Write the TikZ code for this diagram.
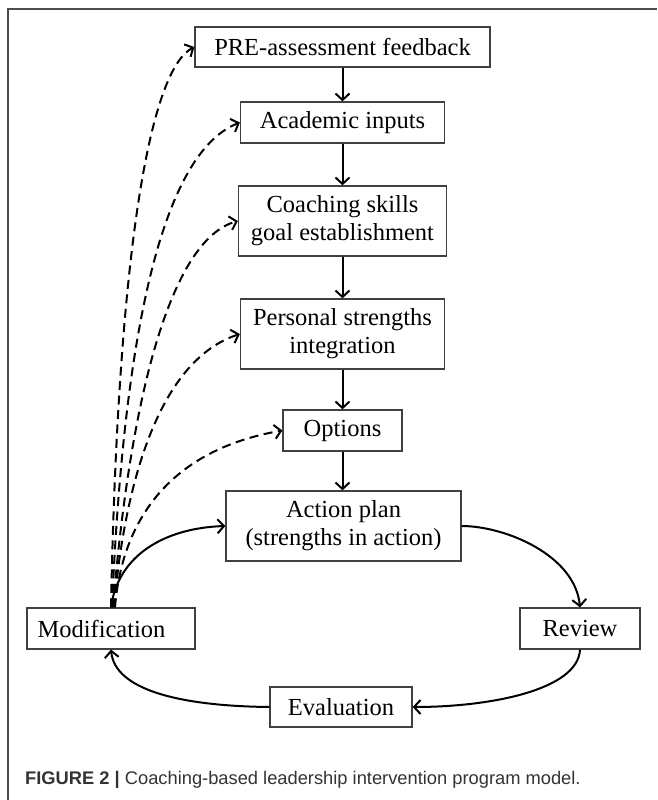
\documentclass[tikz,border=0pt]{standalone}
\usepackage{fontspec}
\setmainfont{Liberation Serif}
\newfontfamily\capfont{Liberation Sans}
\usetikzlibrary{arrows.meta}
\begin{document}
\begin{tikzpicture}[x=1pt,y=1pt,
  box/.style={draw=black!75, line width=1.3pt, fill=white, inner sep=0pt,
    align=center, font=\fontsize{24.5}{28}\selectfont},
  conn/.style={line width=2pt, -{Straight Barb[length=6.5pt,width=14pt,line width=2pt]}},
  dconn/.style={conn, dash pattern=on 9pt off 5.5pt}]
\useasboundingbox (0,0) rectangle (657,-800);
\draw[black!70, line width=1.3pt] (8,-800) -- (8,-9) -- (657,-9);

\node[box, minimum width=295, minimum height=40] (pre) at (342.5,-47) {PRE-assessment feedback};
\node[box, minimum width=204, minimum height=41] (acad) at (342.5,-122.5) {Academic inputs};
\node[box, minimum width=208, minimum height=70] (coach) at (342.5,-221) {Coaching skills\\goal establishment};
\node[box, minimum width=204, minimum height=70] (pers) at (342.5,-334) {Personal strengths\\integration};
\node[box, minimum width=119, minimum height=41] (opt) at (342.5,-430.5) {Options};
\node[box, minimum width=235, minimum height=70] (act) at (343.5,-526) {Action plan\\(strengths in action)};
\node[box, minimum width=168, minimum height=41] (mod) at (111,-628.5) {\hspace*{-19pt}Modification};
\node[box, minimum width=120, minimum height=41] (rev) at (580,-628.5) {Review};
\node[box, minimum width=142, minimum height=40] (eval) at (341,-707) {Evaluation};

\draw[conn] (pre.south) -- (acad.north);
\draw[conn] (acad.south) -- (coach.north);
\draw[conn] (coach.south) -- (pers.north);
\draw[conn] (pers.south) -- (opt.north);
\draw[conn] (opt.south) -- (opt.south |- act.north);

\draw[conn] (mod.north) .. controls (118,-555) and (165,-528) .. (act.west);
\draw[conn] (act.east) .. controls (505,-526) and (575,-555) .. (rev.north);
\draw[conn] (rev.south) .. controls (578,-690) and (490,-707) .. (eval.east);
\draw[conn] (eval.west) .. controls (180,-706) and (115,-690) .. (mod.south);

\draw[dconn] ([xshift=0pt]mod.north) .. controls (118,-250) and (150,-70) .. (pre.west);
\draw[dconn] ([xshift=1pt]mod.north) .. controls (125,-300) and (170,-150) .. (acad.west);
\draw[dconn] ([xshift=2pt]mod.north) .. controls (130,-400) and (170,-240) .. (coach.west);
\draw[dconn] ([xshift=3pt]mod.north) .. controls (125,-480) and (160,-360) .. (pers.west);
\draw[dconn] ([xshift=4pt]mod.north) .. controls (122,-520) and (170,-450) .. (opt.west);

\node[anchor=base west, inner sep=0pt, text=black!80, font=\capfont\fontsize{18.3}{22}\selectfont] (cap) at (25,-784)
  {\textbf{FIGURE 2 |} Coaching-based leadership intervention program model.};
\end{tikzpicture}
\end{document}
